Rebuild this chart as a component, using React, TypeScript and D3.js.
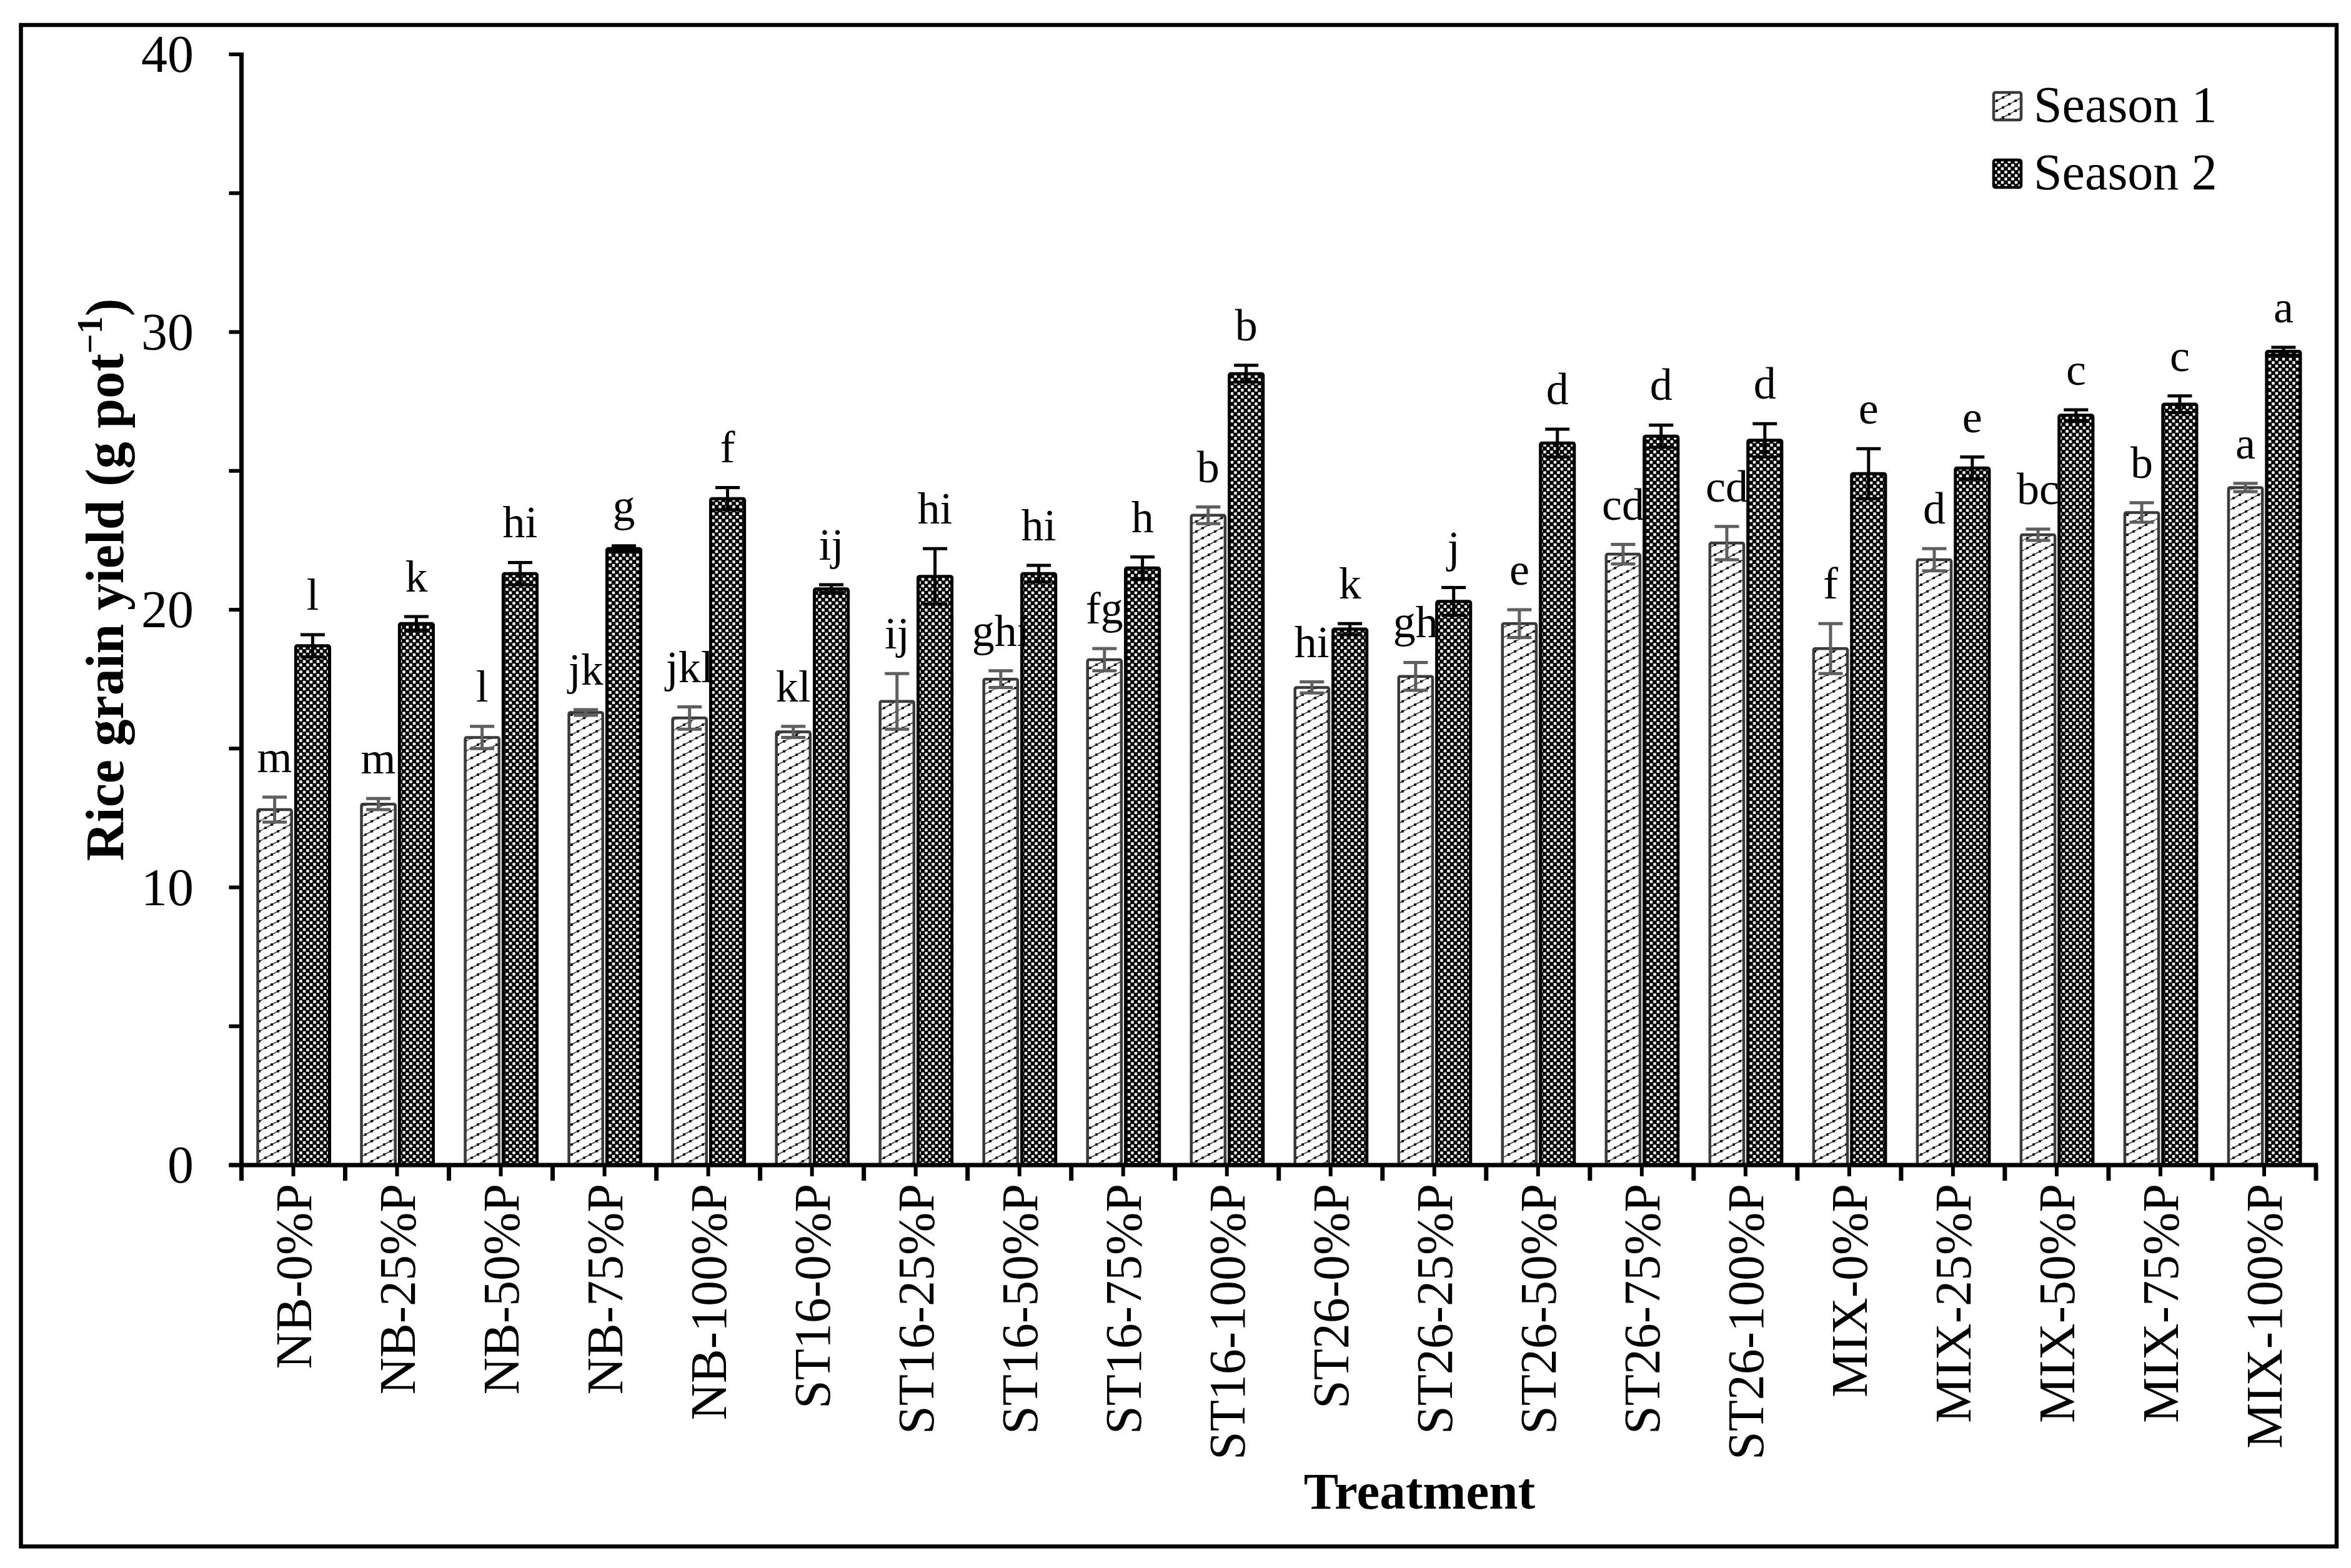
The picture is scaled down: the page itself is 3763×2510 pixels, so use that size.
import React from "react";
import * as d3 from "d3";

const categories = [
  "NB-0%P", "NB-25%P", "NB-50%P", "NB-75%P", "NB-100%P",
  "ST16-0%P", "ST16-25%P", "ST16-50%P", "ST16-75%P", "ST16-100%P",
  "ST26-0%P", "ST26-25%P", "ST26-50%P", "ST26-75%P", "ST26-100%P",
  "MIX-0%P", "MIX-25%P", "MIX-50%P", "MIX-75%P", "MIX-100%P",
];
const season1 = [12.8, 13.0, 15.4, 16.3, 16.1, 15.6, 16.7, 17.5, 18.2, 23.4, 17.2, 17.6, 19.5, 22.0, 22.4, 18.6, 21.8, 22.7, 23.5, 24.4];
const season2 = [18.7, 19.5, 21.3, 22.2, 24.0, 20.75, 21.2, 21.3, 21.5, 28.5, 19.3, 20.3, 26.0, 26.25, 26.1, 24.9, 25.1, 27.0, 27.4, 29.3];
const season1Err = [0.45, 0.2, 0.4, 0.1, 0.4, 0.2, 1.0, 0.3, 0.4, 0.3, 0.2, 0.5, 0.5, 0.35, 0.6, 0.9, 0.4, 0.2, 0.35, 0.15];
const season2Err = [0.4, 0.25, 0.4, 0.1, 0.4, 0.15, 1.0, 0.3, 0.4, 0.3, 0.2, 0.5, 0.5, 0.4, 0.6, 0.9, 0.4, 0.2, 0.3, 0.15];
const season1Letters = ["m", "m", "l", "jk", "jkl", "kl", "ij", "ghi", "fg", "b", "hi", "gh", "e", "cd", "cd", "f", "d", "bc", "b", "a"];
const season2Letters = ["l", "k", "hi", "g", "f", "ij", "hi", "hi", "h", "b", "k", "j", "d", "d", "d", "e", "e", "c", "c", "a"];
const seriesNames = ["Season 1", "Season 2"];
const yTicks = [0, 5, 10, 15, 20, 25, 30, 35, 40];
const yTickLabels = ["0", "", "10", "", "20", "", "30", "", "40"];

const W = 3763;
const H = 2510;
const FONT = "'Times New Roman', 'Liberation Serif', serif";

export default function App() {
  const left = 386.5;
  const right = 3707;
  const y = d3.scaleLinear().domain([0, 40]).range([1865, 87]);
  const x = d3.scaleBand<string>().domain(categories).range([left, right]);
  const inner = d3.scaleBand<string>().domain(["s1", "s2"]).range([-57, 58]).paddingInner(0.11);
  const bw = inner.bandwidth();
  const y0 = y(0);

  const series = [
    { key: "s1", values: season1, errs: season1Err, letters: season1Letters, fill: "url(#stripe)", stroke: "#3a3a3a", errColor: "#5f5f5f" },
    { key: "s2", values: season2, errs: season2Err, letters: season2Letters, fill: "url(#checker)", stroke: "#000", errColor: "#000" },
  ];

  const boundaryTicks = d3.range(categories.length + 1).map((i) => left + i * x.step());

  return (
    <svg width={W} height={H} style={{ position: "absolute", left: 0, top: 0, background: "#fff" }} xmlns="http://www.w3.org/2000/svg">
      <defs>
        <pattern id="stripe" patternUnits="userSpaceOnUse" width={30} height={16}>
          <rect width={30} height={16} fill="#fff" />
          <line x1={0} y1={16} x2={30} y2={0} stroke="#444" strokeWidth={1.7} />
          <rect x={3.2} y={11.5} width={3.7} height={3.7} fill="#000" />
          <rect x={13.2} y={6.2} width={3.7} height={3.7} fill="#000" />
          <rect x={23.2} y={0.9} width={3.7} height={3.7} fill="#000" />
        </pattern>
        <pattern id="checker" patternUnits="userSpaceOnUse" width={11} height={11}>
          <rect width={11} height={11} fill="#000" />
          <rect x={0.8} y={0.8} width={4.4} height={4.4} fill="#fff" />
          <rect x={6.3} y={6.3} width={4.4} height={4.4} fill="#fff" />
        </pattern>
      </defs>

      {/* outer frame */}
      <rect x={33.5} y={40} width={3706.5} height={2435.5} fill="none" stroke="#000" strokeWidth={6.5} />

      {/* bars */}
      {series.map((s) => (
        <g key={s.key}>
          {categories.map((c, i) => {
            const bx = (x(c) as number) + x.bandwidth() / 2 + (inner(s.key) as number);
            const top = y(s.values[i]);
            return (
              <rect key={c} x={bx} y={top} width={bw} height={y0 - top} fill={s.fill} stroke={s.stroke} strokeWidth={s.key === "s1" ? 4.5 : 5} rx={2.5} />
            );
          })}
        </g>
      ))}

      {/* error bars */}
      {series.map((s) => (
        <g key={s.key + "err"} stroke={s.errColor} strokeWidth={5}>
          {categories.map((c, i) => {
            const cx = (x(c) as number) + x.bandwidth() / 2 + (inner(s.key) as number) + bw / 2;
            const hi = y(s.values[i] + s.errs[i]);
            const lo = y(s.values[i] - s.errs[i]);
            return (
              <g key={c}>
                <line x1={cx} x2={cx} y1={hi} y2={lo} />
                <line x1={cx - 19.5} x2={cx + 19.5} y1={hi} y2={hi} />
                <line x1={cx - 19.5} x2={cx + 19.5} y1={lo} y2={lo} />
              </g>
            );
          })}
        </g>
      ))}

      {/* significance letters */}
      {series.map((s) => (
        <g key={s.key + "let"} fontFamily={FONT} fontSize={72} textAnchor="middle" fill="#000">
          {categories.map((c, i) => {
            const cx = (x(c) as number) + x.bandwidth() / 2 + (inner(s.key) as number) + bw / 2;
            return (
              <text key={c} x={cx} y={y(s.values[i] + s.errs[i]) - 40}>
                {s.letters[i]}
              </text>
            );
          })}
        </g>
      ))}

      {/* y axis */}
      <line x1={left} x2={left} y1={y(40) - 3} y2={y0 + 3} stroke="#000" strokeWidth={7} />
      {yTicks.map((t, i) => (
        <g key={t}>
          <line x1={left - 20} x2={left} y1={y(t)} y2={y(t)} stroke="#000" strokeWidth={6} />
          {yTickLabels[i] && (
            <text x={310} y={y(t) + 28} textAnchor="end" fontFamily={FONT} fontSize={84}>
              {yTickLabels[i]}
            </text>
          )}
        </g>
      ))}

      {/* x axis */}
      <line x1={left - 20} x2={right + 3} y1={y0} y2={y0} stroke="#000" strokeWidth={7} />
      {boundaryTicks.map((bx, i) => (
        <line key={"b" + i} x1={bx} x2={bx} y1={y0} y2={y0 + 25} stroke="#000" strokeWidth={7} />
      ))}
      {categories.map((c) => {
        const cx = (x(c) as number) + x.bandwidth() / 2;
        return (
          <g key={c}>
            <line x1={cx} x2={cx} y1={y0} y2={y0 + 18} stroke="#000" strokeWidth={6} />
            <text transform={`translate(${cx + 28},${y0 + 30}) rotate(-90)`} textAnchor="end" fontFamily={FONT} fontSize={82}>
              {c}
            </text>
          </g>
        );
      })}

      {/* axis titles */}
      <text x={2272} y={2415} textAnchor="middle" fontFamily={FONT} fontSize={83} fontWeight="bold">
        Treatment
      </text>
      <text transform={`translate(197,928) rotate(-90)`} textAnchor="middle" fontFamily={FONT} fontSize={86} fontWeight="bold">
        Rice grain yield (g pot
        <tspan fontSize={56} dy={-34}>−1</tspan>
        <tspan dy={34}>)</tspan>
      </text>

      {/* legend */}
      {seriesNames.map((n, i) => (
        <g key={n} transform={`translate(3191,${148 + i * 108})`}>
          <rect x={0} y={0} width={44} height={44} fill={i === 0 ? "url(#stripe)" : "url(#checker)"} stroke={i === 0 ? "#3a3a3a" : "#000"} strokeWidth={4.5} rx={3} />
          <text x={64} y={47} fontFamily={FONT} fontSize={82}>
            {n}
          </text>
        </g>
      ))}
    </svg>
  );
}
